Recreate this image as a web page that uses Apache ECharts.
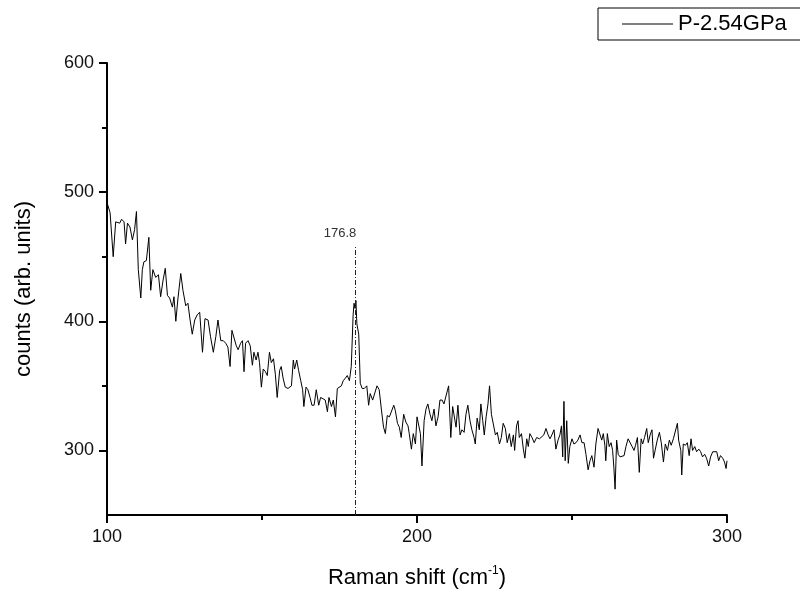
<!DOCTYPE html>
<html style="height: 100%">
<head>
    <meta charset="utf-8">
    <title>Raman P-2.54GPa</title>
</head>
<body style="height: 100%; margin: 0">
<div id="container" style="width: 800px; height: 594px"></div>

<script src="https://cdn.jsdelivr.net/npm/echarts@6/dist/echarts.min.js"></script>
<script type="text/javascript">
// Raman shift (cm-1)
var ramanShift = [
    100.0, 101.0, 102.0, 102.8, 103.3, 104.1, 104.7, 105.5, 106.0, 106.6, 107.4, 108.2, 108.9, 109.5,
    110.1, 110.9, 111.4, 111.9, 112.7, 113.5, 114.1, 114.8, 115.7, 116.6, 117.3, 118.1, 118.8, 119.5,
    120.2, 121.1, 121.6, 122.2, 122.9, 123.8, 124.5, 125.4, 126.1, 126.8, 127.5, 128.3, 129.1, 129.9,
    130.8, 131.6, 132.6, 133.4, 134.3, 135.1, 135.8, 136.7, 137.5, 138.3, 139.0, 139.7,
    140.3, 140.9, 141.7, 142.3, 143.1, 143.7, 144.2, 144.7, 145.5, 146.2, 146.9, 147.4, 148.1, 148.7, 149.2, 149.8,
    150.4, 151.1, 151.7, 152.4, 153.0, 153.7, 154.3, 154.9, 155.7, 156.2, 156.8, 157.5, 158.4, 159.5,
    160.1, 160.5, 161.2, 161.8, 162.5, 163.1, 163.5, 164.2, 164.8, 165.5, 166.1, 166.8, 167.5, 168.3, 168.9, 169.7,
    170.4, 171.1, 171.6, 172.4, 173.0, 173.7, 174.3, 174.9, 175.6, 176.2, 176.9, 177.5, 178.2, 178.8,
    179.4, 179.7, 180.0, 180.3, 180.6, 181.2, 181.7, 182.3, 183.0, 183.8, 184.4, 184.9, 185.7, 186.3,
    187.1, 187.8, 188.5, 189.2, 189.8, 190.4, 191.1, 191.7, 192.5, 193.0, 193.7, 194.3, 194.9, 195.7,
    196.4, 197.1, 197.5, 198.2, 198.8, 199.5, 200.0, 200.5, 201.1, 201.6, 202.3, 202.9, 203.5, 204.2,
    204.8, 205.5, 206.1, 206.8, 207.4, 208.1, 208.7, 209.3, 210.2, 210.9, 211.5, 212.1, 212.6, 213.2,
    213.9, 214.5, 215.2, 215.8, 216.4, 217.1, 217.7, 218.4, 218.8, 219.4,
    220.1, 220.6, 221.2, 221.7, 222.3, 222.9, 223.4, 224.0, 224.6, 225.3, 225.9, 226.6, 227.2, 227.8,
    228.5, 229.1, 229.8, 230.4, 231.1, 231.5, 232.1, 232.6, 233.0, 233.7, 234.3, 234.8, 235.4, 235.9,
    236.4, 237.1, 237.8, 238.6, 239.5, 240.1, 240.9, 241.6, 242.3, 242.9, 243.5, 244.2, 244.8, 245.5,
    246.1, 246.6, 247.0, 247.4, 247.8, 248.3, 248.8, 249.3, 250.0, 250.6, 251.3, 251.9, 252.6, 253.2,
    253.9, 254.5, 255.2, 255.8, 256.4, 257.1, 257.7, 258.4, 259.0,
    259.6, 260.1, 260.6, 260.9, 261.4, 262.0, 262.6, 263.1, 263.5, 263.9, 264.4, 264.9, 265.5, 266.1,
    266.8, 267.4, 268.1, 268.7, 269.4, 270.0, 270.5, 271.1, 271.7, 272.3, 272.8, 273.4, 274.1, 274.6,
    275.2, 275.8, 276.3, 276.9, 277.5, 278.2, 278.8, 279.5, 280.1, 280.8, 281.4, 282.0, 282.7, 283.3,
    284.0, 284.4, 285.1, 285.4, 285.9, 286.6, 287.2, 287.8, 288.4, 288.9, 289.6, 290.2, 290.9, 291.5,
    292.1, 292.8, 293.4, 294.1, 294.7, 295.4, 296.0, 296.7, 297.3, 297.9, 298.6, 299.2, 299.7, 300.0
];

// counts (arb. units)
var counts = [
    492, 484, 450, 477, 478, 476, 479, 477, 460, 476, 473, 463, 471, 485,
    440, 418, 440, 446, 447, 465, 424, 440, 434, 436, 419, 432, 441, 420,
    418, 411, 419, 400, 418, 437, 424, 412, 414, 401, 390, 401, 405, 407,
    376, 402, 401, 388, 376, 388, 401, 385, 385, 383, 380, 365,
    393, 392, 381, 378, 383, 385, 361, 383, 385, 381, 366, 376, 370, 376, 368, 349,
    363, 361, 358, 376, 368, 371, 359, 341, 362, 365, 356, 349, 348, 350,
    370, 363, 370, 362, 354, 347, 334, 349, 347, 341, 335, 335, 347, 335, 341, 340,
    339, 330, 341, 334, 339, 326, 348, 347, 350, 354, 356, 358, 354, 365,
    405, 414, 410, 416, 398, 390, 352, 348, 348, 350, 335, 344, 339, 339,
    350, 347, 332, 318, 313, 327, 326, 327, 335, 331, 321, 318, 310, 328,
    322, 319, 313, 301, 313, 305, 326, 325, 313, 288, 323, 332, 336, 328,
    323, 332, 319, 326, 339, 339, 336, 337, 350, 310, 334, 335, 318, 335,
    312, 316, 314, 328, 335, 323, 316, 310, 305, 325,
    316, 336, 323, 312, 326, 336, 350, 328, 327, 312, 314, 305, 310, 321,
    317, 306, 313, 303, 312, 300, 319, 323, 310, 313, 301, 294, 309, 303,
    313, 310, 306, 310, 309, 310, 312, 317, 312, 309, 312, 316, 301, 308,
    312, 319, 295, 338, 292, 323, 290, 303, 309, 305, 306, 308, 312, 306,
    306, 297, 285, 292, 296, 287, 305, 317, 316,
    308, 313, 304, 292, 313, 303, 306, 300, 287, 270, 308, 297, 295, 294,
    296, 303, 309, 308, 303, 300, 304, 310, 283, 309, 305, 310, 317, 306,
    312, 316, 294, 301, 308, 314, 306, 291, 305, 300, 308, 304, 309, 309,
    321, 308, 300, 281, 305, 304, 306, 296, 309, 300, 303, 299, 301, 299,
    295, 297, 294, 288, 295, 299, 300, 299, 292, 296, 294, 291, 286, 292
];

var seriesName = 'P-2.54GPa';
var peakShift = 180;      // where the marker line is drawn
var peakLabel = '176.8';
var peakTop = 459;

var xTicks = [100, 200, 300];
var yMajorTicks = [300, 400, 500, 600];
var yMinorTicks = [350, 450, 550];

var lineData = [];
for (var i = 0; i < ramanShift.length; i++) {
    lineData.push([ramanShift[i], counts[i]]);
}

var font = 'Liberation Sans, Arial, sans-serif';
var myChart = echarts.init(document.getElementById('container'));

var option = {
    backgroundColor: '#fff',
    animation: false,
    textStyle: { fontFamily: font },
    grid: {
        left: 107,
        right: 73,
        top: 63,
        bottom: 79
    },
    legend: {
        data: [seriesName],
        left: 598,
        top: 8,
        icon: 'rect',
        itemWidth: 51,
        itemHeight: 1,
        padding: [5, 30, 5, 24],
        borderColor: '#000',
        borderWidth: 1,
        textStyle: {
            fontSize: 22,
            color: '#000',
            fontFamily: font
        }
    },
    xAxis: {
        type: 'value',
        min: xTicks[0],
        max: xTicks[xTicks.length - 1],
        interval: 100,
        name: '{a|Raman shift (cm}{s|-1}{a|)}',
        nameLocation: 'middle',
        nameGap: 50,
        nameTextStyle: {
            rich: {
                a: { fontSize: 22, color: '#000', fontFamily: font, lineHeight: 26 },
                s: { fontSize: 12, color: '#000', fontFamily: font, lineHeight: 26, verticalAlign: 'top', padding: [0, 0, 11, 0] }
            }
        },
        axisLine: { onZero: false, lineStyle: { color: '#000', width: 2 } },
        axisTick: { length: 8, lineStyle: { color: '#000', width: 2 } },
        minorTick: { show: true, splitNumber: 2, length: 5, lineStyle: { color: '#000', width: 2 } },
        axisLabel: { fontSize: 18, color: '#111', margin: 13 },
        splitLine: { show: false }
    },
    yAxis: [
        {
            type: 'value',
            position: 'left',
            min: 250,
            max: 600,
            name: 'counts (arb. units)',
            nameLocation: 'middle',
            nameRotate: 90,
            nameGap: 72,
            nameTextStyle: { fontSize: 22, color: '#000' },
            axisLine: { show: true, onZero: false, lineStyle: { color: '#000', width: 2 } },
            axisTick: { show: true, length: 8, customValues: yMajorTicks, lineStyle: { color: '#000', width: 2 } },
            axisLabel: { fontSize: 18, color: '#111', margin: 13, customValues: yMajorTicks },
            splitLine: { show: false }
        },
        {
            type: 'value',
            position: 'left',
            min: 250,
            max: 600,
            axisLine: { show: false },
            axisTick: { show: true, length: 5, customValues: yMinorTicks, lineStyle: { color: '#000', width: 2 } },
            axisLabel: { show: false },
            splitLine: { show: false }
        }
    ],
    series: [
        {
            name: seriesName,
            type: 'line',
            data: lineData,
            symbol: 'none',
            yAxisIndex: 0,
            lineStyle: { color: '#000', width: 1 },
            itemStyle: { color: '#000' },
            markLine: {
                silent: true,
                symbol: ['none', 'none'],
                lineStyle: { color: '#222', width: 1, type: [5, 2, 1, 2] },
                label: {
                    show: true,
                    position: 'end',
                    formatter: peakLabel,
                    fontSize: 13,
                    color: '#333',
                    padding: [0, 30, 0, 0]
                },
                data: [
                    [{ coord: [peakShift, 250] }, { coord: [peakShift, peakTop] }]
                ]
            }
        }
    ]
};

myChart.setOption(option);
</script>
</body>
</html>
